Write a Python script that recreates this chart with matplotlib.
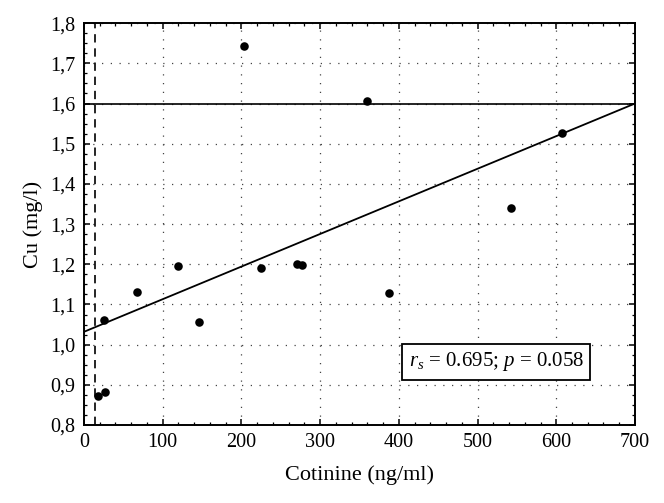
import numpy as np
import matplotlib
matplotlib.use("Agg")
from matplotlib import pyplot as plt
from matplotlib.ticker import MultipleLocator, FixedLocator, FixedFormatter

# data
cotinine = [18, 27, 25, 67, 119, 146, 203, 225, 271, 277, 360, 388, 543, 607]
copper = [0.872, 0.883, 1.061, 1.130, 1.195, 1.056, 1.743, 1.191, 1.200, 1.199,
          1.607, 1.128, 1.339, 1.526]

fit_x = [0, 700]
fit_y = [1.032, 1.600]
ref_cu = 1.6        # horizontal reference level
ref_cotinine = 14   # vertical dashed cut-off

x_ticks = [0, 100, 200, 300, 400, 500, 600, 700]
y_ticks = [0.8, 0.9, 1.0, 1.1, 1.2, 1.3, 1.4, 1.5, 1.6, 1.7, 1.8]
y_labels = ["0,8", "0,9", "1,0", "1,1", "1,2", "1,3", "1,4", "1,5", "1,6", "1,7", "1,8"]
stats_text = r"$r_s$ = 0.695; $p$ = 0.058"

plt.rcParams['font.family'] = ['Liberation Serif', 'DejaVu Serif']
plt.rcParams['mathtext.fontset'] = 'custom'
plt.rcParams['mathtext.it'] = 'Liberation Serif:italic'
plt.rcParams['mathtext.rm'] = 'Liberation Serif'

fig = plt.figure(figsize=(6.64, 5.03), dpi=100)
ax = fig.add_axes([0.1265, 0.155, 0.8298, 0.799])

ax.axhline(ref_cu, color='black', lw=1.2, zorder=2)
ax.axvline(ref_cotinine, color='black', lw=1.2, ls=(0, (5, 3.5)), zorder=2)
ax.plot(fit_x, fit_y, color='black', lw=1.3, zorder=3)
ax.scatter(cotinine, copper, s=38, color='black', zorder=4, linewidths=0)

ax.set_xlim(0, 700)
ax.set_ylim(0.8, 1.8)
ax.xaxis.set_major_locator(FixedLocator(x_ticks))
ax.xaxis.set_minor_locator(MultipleLocator(20))
ax.yaxis.set_major_locator(FixedLocator(y_ticks))
ax.yaxis.set_major_formatter(FixedFormatter(y_labels))
ax.yaxis.set_minor_locator(MultipleLocator(0.025))

ax.tick_params(which='both', direction='in', top=True, right=True, labelsize=14.5, color='black')
ax.tick_params(which='major', length=4.5, width=1.1, pad=6)
ax.tick_params(which='minor', length=2.5, width=0.9)
for s in ax.spines.values():
    s.set_linewidth(1.4)

ax.grid(True, which='major', color='#444444', lw=0.9, ls=(0, (1, 6)))
ax.set_axisbelow(True)

ax.set_xlabel("Cotinine (ng/ml)", fontsize=16, labelpad=9)
ax.set_ylabel("Cu (mg/l)", fontsize=16, labelpad=5)

ax.text(0.589, 0.157, stats_text, transform=ax.transAxes, fontsize=15,
        ha='left', va='center', zorder=5,
        bbox=dict(boxstyle='square,pad=0.3', fc='white', ec='black', lw=1.3))

fig.savefig("out.png", dpi=100)
